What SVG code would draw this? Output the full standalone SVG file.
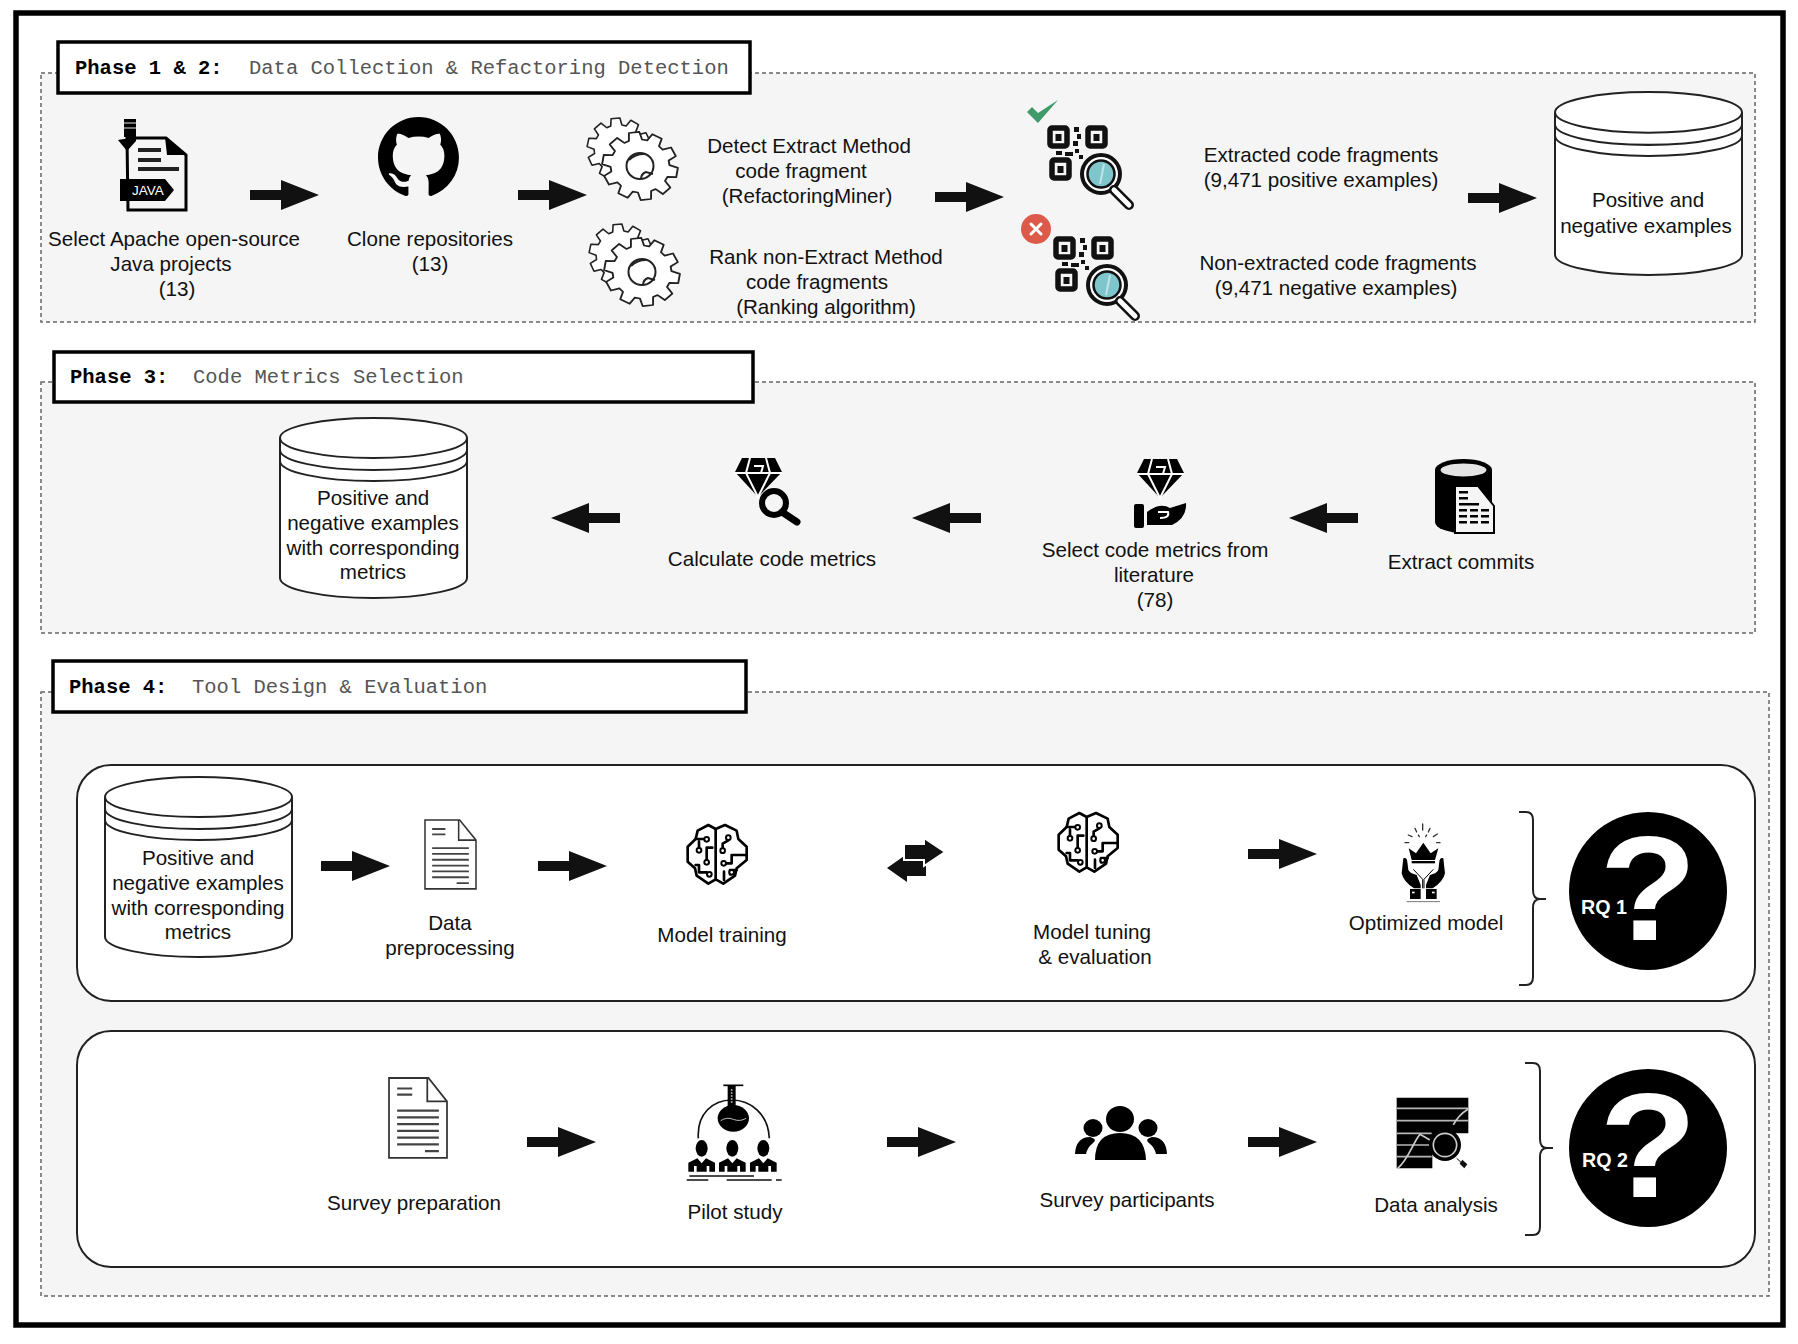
<svg xmlns="http://www.w3.org/2000/svg" xmlns:xlink="http://www.w3.org/1999/xlink" width="1798" height="1344" viewBox="0 0 1798 1344">
<style>
.t{font-family:"Liberation Sans",Arial,sans-serif;font-size:20.6px;fill:#111;text-anchor:middle}
.m{font-family:"Liberation Mono","Courier New",monospace;font-size:20.5px;fill:#555}
.mb{font-weight:bold;fill:#000}
.panel{fill:#f5f5f5;stroke:#666;stroke-width:1.5;stroke-dasharray:4 3}
.label{fill:#fff;stroke:#000;stroke-width:3.5}
.band{fill:#fff;stroke:#222;stroke-width:2}
.brace{fill:none;stroke:#222;stroke-width:2}
.qt{font-family:"Liberation Sans",Arial,sans-serif;font-weight:bold;fill:#fff;text-anchor:middle}
.ic{fill:none;stroke:#000;stroke-linecap:round;stroke-linejoin:round}
</style>
<defs>
<path id="arrow" fill="#111" d="M0 -5H31V-15L69 0L31 15V5H0Z"/>
<path id="gearp" fill="#fff" stroke="#222" stroke-width="5" stroke-linejoin="round" d="M76 -17.5L99 -13.9L99 13.9L76 17.5L71.8 30.5L88.3 46.9L71.9 69.5L51.2 58.9L40.2 66.9L43.8 89.9L17.4 98.5L6.8 77.7L-6.8 77.7L-17.4 98.5L-43.8 89.9L-40.2 66.9L-51.2 58.9L-71.9 69.5L-88.3 46.9L-71.8 30.5L-76 17.5L-99 13.9L-99 -13.9L-76 -17.5L-71.8 -30.5L-88.3 -46.9L-71.9 -69.5L-51.2 -58.9L-40.2 -66.9L-43.8 -89.9L-17.4 -98.5L-6.8 -77.7L6.8 -77.7L17.4 -98.5L43.8 -89.9L40.2 -66.9L51.2 -58.9L71.9 -69.5L88.3 -46.9L71.8 -30.5Z"/>
<g id="gears">
<use href="#gearp" transform="translate(31 -18) rotate(12) scale(.32 .31)"/>
<use href="#gearp" transform="translate(52 -1) rotate(10) scale(.38 .34)"/>
<ellipse cx="52" cy="-1" rx="13.500" ry="13" fill="#fff" stroke="#222" stroke-width="2"/>
<path d="M41 -7Q47 -13 56 -13M53 12Q53 7 58 5L65 7" fill="none" stroke="#222" stroke-width="2"/>
</g>
<g id="cyl" fill="#fff" stroke="#222" stroke-width="2">
<path d="M0 20V160A93.5 20 0 0 0 187 160V20"/>
<ellipse cx="93.5" cy="20" rx="93.5" ry="20"/>
<path d="M0 32A93.5 20 0 0 0 187 32M0 43A93.5 20 0 0 0 187 43" fill="none"/>
</g>
<g id="qr">
<g fill="none" stroke="#111" stroke-width="5.500">
<rect x="1050" y="128" width="17" height="18" rx="2"/>
<rect x="1088" y="128" width="17" height="18" rx="2"/>
<rect x="1052" y="160" width="17" height="18" rx="2"/>
</g>
<rect x="1055.500" y="134" width="6" height="7" fill="#111"/>
<rect x="1093.500" y="134" width="6" height="7" fill="#111"/>
<rect x="1057.500" y="166" width="6" height="7" fill="#111"/>
<path d="M1074 127h5v5h-5zM1077 134h4v5h-4zM1073 141h5v5h-5zM1056 151h6v4h-6zM1065 152h8v4h-8zM1075 149h4v4h-4zM1079 155h4v4h-4z" fill="#111"/>
<circle cx="1101" cy="174" r="19" fill="#fff" stroke="#111" stroke-width="4"/>
<circle cx="1101" cy="174" r="13.500" fill="#7fc5cc" stroke="#111" stroke-width="2.500"/>
<path d="M1114 190L1129 205" stroke="#111" stroke-width="10" stroke-linecap="round"/>
<path d="M1114 190L1129 205" stroke="#fff" stroke-width="5" stroke-linecap="round"/>
<path d="M1104 164L1100 184" stroke="#bfe3e6" stroke-width="2"/>
</g>
<g id="brain" transform="scale(.3333)">
<g class="ic" stroke-width="8" fill="none">
<path d="M122 42L100 30L68 47L62 72L38 95V140L60 160L65 182L100 206L122 193L145 206L180 182L185 160L215 135V95L190 72L185 47L150 30Z"/>
<path d="M122 42V193M62 72H88M72 80V100M112 98H95V135M62 150H72V172H95M160 76L143 86V100M215 120H170V145H153M185 165L165 165V178M147 195V170"/>
</g>
<g fill="#fff" stroke="#000" stroke-width="6">
<circle cx="95" cy="73" r="7"/><circle cx="72" cy="106" r="7"/><circle cx="95" cy="142" r="7"/><circle cx="103" cy="178" r="7"/>
<circle cx="160" cy="68" r="7"/><circle cx="143" cy="107" r="7"/><circle cx="146" cy="145" r="7"/><circle cx="170" cy="172" r="7"/>
</g>
</g>
<g id="hand">
<path d="M40 115Q50 110 52 125L55 150Q60 160 80 165L92 195V205H72Q40 185 35 160Z" fill="#000"/>
<rect x="60" y="207" width="32" height="30" fill="#000"/>
<rect x="66" y="215" width="8" height="5" fill="#fff"/>
<path d="M70 148L98 178V205" fill="none" stroke="#000" stroke-width="3"/>
</g>
<g id="doc">
<path d="M0 0H68L100 38V130H0Z" fill="#fff" stroke="#333" stroke-width="3"/>
<path d="M66 0V38H100" fill="none" stroke="#333" stroke-width="3"/>
<path d="M14 18H40M14 28H40M14 54H86M14 65H86M14 76H86M14 87H86M14 98H86M14 109H86M62 120H86" transform="translate(0 -1)" stroke="#444" stroke-width="3.500" fill="none"/>
</g>
<path id="gem" fill="#000" d="M7 0H40L47 14L23 39L0 14Z"/>
<path id="gemL" fill="none" stroke="#fff" stroke-width="2" d="M0 15H47M15 0L11 15L23 39L35 15L31 0M19 8H28L26 15"/>
</defs>
<rect width="1798" height="1344" fill="#fff"/>
<rect x="16" y="13" width="1767" height="1312" fill="#fff" stroke="#000" stroke-width="5.500"/>

<g id="panels">
<rect class="panel" x="41" y="73" width="1714" height="249"/>
<rect class="panel" x="41" y="382" width="1714" height="251"/>
<rect class="panel" x="41" y="692" width="1728" height="604"/>
<rect class="band" x="77" y="765" width="1678" height="236" rx="34"/>
<rect class="band" x="77" y="1031" width="1678" height="236" rx="34"/>
<path class="brace" d="M1519 812H1526Q1533 812 1533 820V890Q1533 899 1540 899H1546M1540 899Q1533 899 1533 908V977Q1533 985 1526 985H1519"/>
<path class="brace" d="M1525 1063H1533Q1540 1063 1540 1071V1139Q1540 1148 1547 1148H1553M1547 1148Q1540 1148 1540 1157V1227Q1540 1235 1533 1235H1525"/>
</g>

<g id="titles">
<g id="title1"><rect class="label" x="58" y="42" width="692" height="51"/><text class="m" y="74"><tspan class="mb" x="75">Phase 1 &amp; 2:</tspan><tspan x="249">Data Collection &amp; Refactoring Detection</tspan></text></g>
<g id="title3"><rect class="label" x="54" y="352" width="699" height="50"/><text class="m" y="383"><tspan class="mb" x="70">Phase 3:</tspan><tspan x="193">Code Metrics Selection</tspan></text></g>
<g id="title4"><rect class="label" x="53" y="661" width="693" height="51"/><text class="m" y="693"><tspan class="mb" x="69">Phase 4:</tspan><tspan x="192">Tool Design &amp; Evaluation</tspan></text></g>
</g>

<g id="connectors">
<use href="#arrow" transform="translate(250 195)"/>
<use href="#arrow" transform="translate(518 195)"/>
<use href="#arrow" transform="translate(935 197)"/>
<use href="#arrow" transform="translate(1468 198)"/>
<use href="#arrow" transform="translate(620 518) scale(-1 1)"/>
<use href="#arrow" transform="translate(981 518) scale(-1 1)"/>
<use href="#arrow" transform="translate(1358 518) scale(-1 1)"/>
<use href="#arrow" transform="translate(321 866)"/>
<use href="#arrow" transform="translate(538 866)"/>
<path fill="#111" d="M926 860H907V854L887 868L907 882V876H926Z"/>
<path fill="#111" stroke="#fff" stroke-width="2" d="M904 844H924V838L945 852L924 866V860H904Z"/>
<use href="#arrow" transform="translate(1248 854)"/>
<use href="#arrow" transform="translate(527 1142)"/>
<use href="#arrow" transform="translate(887 1142)"/>
<use href="#arrow" transform="translate(1248 1142)"/>
</g>

<g id="select-projects">
<path d="M127 138H166L186 155V210H128Z" fill="none" stroke="#000" stroke-width="3"/>
<path d="M165 137L187 155H167Z" fill="#000"/>
<path d="M138 150H161M138 160H161M138 169H179" stroke="#222" stroke-width="4" fill="none"/>
<rect x="124" y="119" width="12" height="18" fill="#000"/>
<path d="M124 123H136M124 128H136" stroke="#999" stroke-width="1.500"/>
<path d="M118 140L136 137V141L127 151Z" fill="#000"/>
<path d="M120 179H165L174 190L165 201H120Z" fill="#000"/>
<text x="148" y="195" font-family="Liberation Sans, Arial, sans-serif" font-size="13.500" fill="#fff" text-anchor="middle">JAVA</text>
<text class="t" x="174" y="246">Select Apache open-source</text>
<text class="t" x="171" y="271">Java projects</text>
<text class="t" x="177" y="296">(13)</text>
</g>

<g id="clone-repos">
<path transform="translate(378 117) scale(5.060)" fill="#000" fill-rule="evenodd" d="M8 0C3.58 0 0 3.58 0 8c0 3.54 2.29 6.53 5.47 7.59.4.07.55-.17.55-.38 0-.19-.01-.82-.01-1.49-2.01.37-2.53-.49-2.69-.94-.09-.23-.48-.94-.82-1.13-.28-.15-.68-.52-.01-.53.63-.01 1.08.58 1.23.82.72 1.21 1.87.87 2.33.66.07-.52.28-.87.51-1.07-1.78-.2-3.64-.89-3.64-3.95 0-.87.31-1.59.82-2.15-.08-.2-.36-1.02.08-2.12 0 0 .67-.21 2.2.82.64-.18 1.32-.27 2-.27.68 0 1.36.09 2 .27 1.53-1.04 2.2-.82 2.2-.82.44 1.1.16 1.92.08 2.12.51.56.82 1.27.82 2.15 0 3.07-1.87 3.75-3.65 3.95.29.25.54.73.54 1.48 0 1.07-.01 1.93-.01 2.2 0 .21.15.46.55.38A8.013 8.013 0 0016 8c0-4.42-3.58-8-8-8z"/>
<text class="t" x="430" y="246">Clone repositories</text>
<text class="t" x="430" y="271">(13)</text>
</g>

<g id="detect-extract">
<use href="#gears" transform="translate(588 167)"/>
<text class="t" x="809" y="153">Detect Extract Method</text>
<text class="t" x="801" y="178">code fragment</text>
<text class="t" x="807" y="203">(RefactoringMiner)</text>
</g>
<g id="rank-non-extract">
<use href="#gears" transform="translate(590 273)"/>
<text class="t" x="826" y="264">Rank non-Extract Method</text>
<text class="t" x="817" y="289">code fragments</text>
<text class="t" x="826" y="314">(Ranking algorithm)</text>
</g>

<g id="extracted">
<path d="M1027 112L1038 123L1058 100L1038 113L1032 107Z" fill="#3f9b6a"/>
<use href="#qr"/>
<text class="t" x="1321" y="162">Extracted code fragments</text>
<text class="t" x="1321" y="187">(9,471 positive examples)</text>
</g>
<g id="non-extracted">
<use href="#qr" transform="translate(6 111)"/>
<circle cx="1036" cy="229" r="15" fill="#dc5a4a"/>
<path d="M1031 224L1041 234M1041 224L1031 234" stroke="#fff" stroke-width="3" stroke-linecap="round"/>
<text class="t" x="1338" y="270">Non-extracted code fragments</text>
<text class="t" x="1336" y="295">(9,471 negative examples)</text>
</g>

<g id="pn-examples">
<use href="#cyl" transform="translate(1555 92) scale(1 1.017)"/>
<text class="t" x="1648" y="207">Positive and</text>
<text class="t" x="1646" y="233">negative examples</text>
</g>

<g id="extract-commits">
<path d="M1435 470A28.500 11 0 0 1 1492 470V522A28.500 11 0 0 1 1435 522Z" fill="#000"/>
<ellipse cx="1463.500" cy="470" rx="23" ry="6.500" fill="#e4e4e4"/>
<path d="M1455 486H1478L1494 506V533H1455Z" fill="#f5f5f5" stroke="#000" stroke-width="2"/>
<path d="M1459 491h9v2.500h-9zM1459 497h9v2.500h-9zM1459 503h20v2.500h-20zM1459 509h8v2.500h-8zM1470 509h8v2.500h-8zM1481 509h8v2.500h-8zM1459 515h8v2.500h-8zM1470 515h8v2.500h-8zM1481 515h8v2.500h-8zM1459 521h8v2.500h-8zM1470 521h8v2.500h-8zM1481 521h8v2.500h-8z" fill="#000"/>
<text class="t" x="1461" y="569">Extract commits</text>
</g>

<g id="select-metrics">
<use href="#gem" transform="translate(1137 459)"/>
<use href="#gemL" transform="translate(1137 459)"/>
<rect x="1134" y="504" width="10" height="24" rx="2" fill="#000"/>
<path d="M1147 512Q1160 502 1170 508L1186 503Q1187 518 1172 525H1147Z" fill="#000"/>
<path d="M1158 512H1168Q1170 518 1160 518" fill="none" stroke="#fff" stroke-width="2"/>
<text class="t" x="1155" y="557">Select code metrics from</text>
<text class="t" x="1154" y="582">literature</text>
<text class="t" x="1155" y="607">(78)</text>
</g>

<g id="calc-metrics">
<use href="#gem" transform="translate(735 458)"/>
<use href="#gemL" transform="translate(735 458)"/>
<circle cx="774" cy="503" r="12" fill="#f5f5f5" stroke="#000" stroke-width="6"/>
<path d="M782 512L797 522" stroke="#000" stroke-width="7" stroke-linecap="round"/>
<text class="t" x="772" y="566">Calculate code metrics</text>
</g>

<g id="pn-metrics">
<use href="#cyl" transform="translate(280 418)"/>
<text class="t" x="373" y="505">Positive and</text>
<text class="t" x="373" y="530">negative examples</text>
<text class="t" x="373" y="555">with corresponding</text>
<text class="t" x="373" y="579">metrics</text>
</g>

<g id="pn-metrics-2">
<use href="#cyl" transform="translate(105 777)"/>
<text class="t" x="198" y="865">Positive and</text>
<text class="t" x="198" y="890">negative examples</text>
<text class="t" x="198" y="915">with corresponding</text>
<text class="t" x="198" y="939">metrics</text>
</g>

<g id="data-preprocessing">
<use href="#doc" transform="translate(425 820) scale(.51 .53)"/>
<text class="t" x="450" y="930">Data</text>
<text class="t" x="450" y="955">preprocessing</text>
</g>
<g id="model-training">
<use href="#brain" transform="translate(675 815)"/>
<text class="t" x="722" y="942">Model training</text>
</g>
<g id="model-tuning">
<use href="#brain" transform="translate(1046 803)"/>
<text class="t" x="1092" y="939">Model tuning</text>
<text class="t" x="1095" y="964">&amp; evaluation</text>
</g>
<g id="optimized-model">
<g transform="translate(1390 820) scale(.3333)">
<path d="M98 12V30M75 25L80 36M120 25L115 36M55 45L66 50M142 42L130 50M45 68H56M150 68H140M85 45L88 50M110 45L107 50" stroke="#333" stroke-width="4" fill="none" stroke-linecap="round"/>
<path d="M56 85L78 100L100 68L122 100L145 85L135 120H65Z" fill="#000"/>
<rect x="65" y="123" width="70" height="7" fill="#000"/>
<use href="#hand"/>
<use href="#hand" transform="translate(200 0) scale(-1 1)"/>
<path d="M50 245H150" stroke="#777" stroke-width="3"/>
</g>
<text class="t" x="1426" y="930">Optimized model</text>
</g>

<g id="survey-preparation">
<use href="#doc" transform="translate(389 1078) scale(.58 .615)"/>
<text class="t" x="414" y="1210">Survey preparation</text>
</g>
<g id="pilot-study">
<g transform="translate(680 1080) scale(.3333)">
<path d="M55 175C50 100 100 60 155 60S265 100 268 175" fill="none" stroke="#111" stroke-width="5"/>
<ellipse cx="160" cy="115" rx="47" ry="40" fill="#000"/>
<rect x="143" y="18" width="24" height="62" fill="#000"/>
<path d="M130 16H190" stroke="#000" stroke-width="5"/>
<path d="M155 28V68" stroke="#ccc" stroke-width="5" stroke-dasharray="4 5"/>
<path d="M122 122Q140 110 160 118T198 115" fill="none" stroke="#bbb" stroke-width="3"/>
<g fill="#000">
<ellipse cx="65" cy="205" rx="18" ry="25"/><ellipse cx="157" cy="205" rx="18" ry="25"/><ellipse cx="250" cy="205" rx="18" ry="25"/>
<path d="M25 275V248L52 235L65 250L78 235L105 248V275H88V258H80V275H50V258H42V275Z"/>
<path d="M117 275V248L144 235L157 250L170 235L197 248V275H180V258H172V275H142V258H134V275Z"/>
<path d="M210 275V248L237 235L250 250L263 235L290 248V275H273V258H265V275H235V258H227V275Z"/>
</g>
<path d="M28 288H222M20 300H85M140 300H275M288 300H305" stroke="#111" stroke-width="4" fill="none"/>
</g>
<text class="t" x="735" y="1219">Pilot study</text>
</g>
<g id="survey-participants">
<ellipse cx="1120" cy="1119" rx="14" ry="13" fill="#000"/>
<ellipse cx="1093" cy="1128" rx="9.500" ry="9" fill="#000"/>
<ellipse cx="1148" cy="1128" rx="9.500" ry="9" fill="#000"/>
<path d="M1095 1160Q1095 1133 1120 1133T1146 1160Z" fill="#000"/>
<path d="M1075 1154Q1076 1137 1090 1137Q1098 1139 1093 1143Q1087 1148 1086 1154Z" fill="#000"/>
<path d="M1167 1154Q1166 1137 1152 1137Q1144 1139 1149 1143Q1155 1148 1156 1154Z" fill="#000"/>
<text class="t" x="1127" y="1207">Survey participants</text>
</g>
<g id="data-analysis">
<g transform="translate(1385 1085) scale(.3333)">
<path d="M35 38H250V145H200V180H142V250H35Z" fill="#000"/>
<path d="M35 70H250M35 107H250M35 145H140M35 180H140M35 215H140" stroke="#b5b5b5" stroke-width="5"/>
<path d="M38 250C70 225 85 170 105 148L135 165M205 120Q220 90 250 72" fill="none" stroke="#ccc" stroke-width="5"/>
<circle cx="180" cy="180" r="48" fill="#000"/>
<circle cx="180" cy="180" r="35" fill="none" stroke="#ccc" stroke-width="5"/>
<path d="M215 220L228 232" stroke="#000" stroke-width="3"/>
<path d="M232 224L247 238L238 250L224 236Z" fill="#111"/>
</g>
<text class="t" x="1436" y="1212">Data analysis</text>
</g>

<g id="rq1">
<ellipse cx="1648" cy="891" rx="79" ry="79" fill="#000"/>
<text class="qt" transform="translate(1648 940) scale(1.08 1)" font-size="148">?</text>
<text class="qt" x="1604" y="914" font-size="19.700">RQ 1</text>
</g>
<g id="rq2">
<ellipse cx="1648" cy="1148" rx="79" ry="79" fill="#000"/>
<text class="qt" transform="translate(1648 1197) scale(1.08 1)" font-size="148">?</text>
<text class="qt" x="1605" y="1167" font-size="19.700">RQ 2</text>
</g>
</svg>
